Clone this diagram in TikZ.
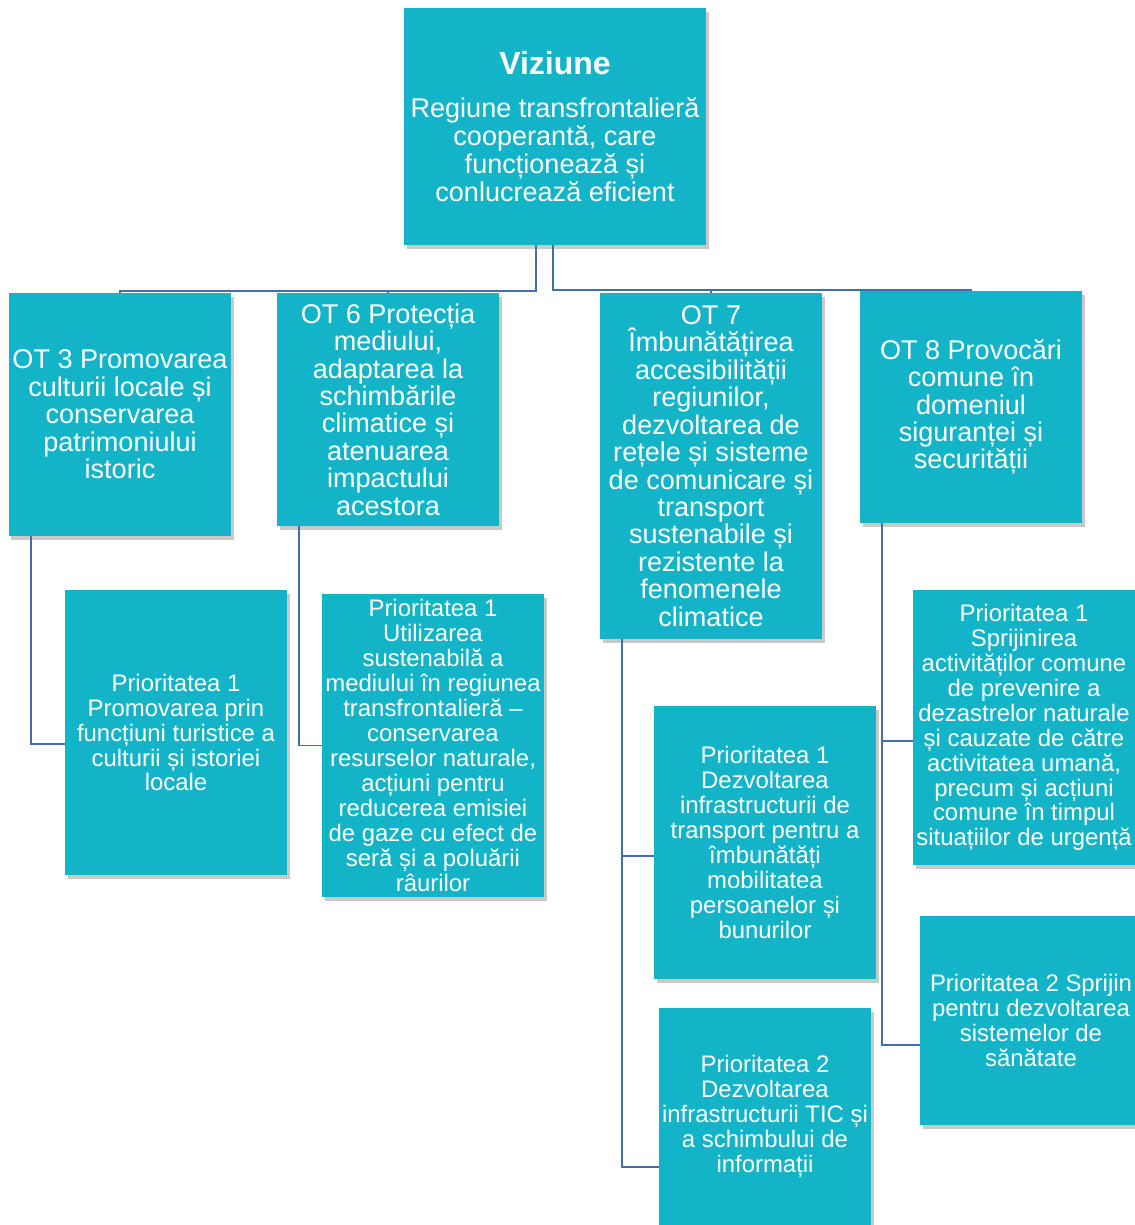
\documentclass[tikz,border=0pt]{standalone}
\usepackage{fontspec}
\setmainfont{Liberation Sans}
\usepackage{tikz}
\usetikzlibrary{shadows}
\definecolor{boxteal}{RGB}{19,180,199}
\definecolor{linkblue}{RGB}{68,110,168}

\begin{document}
\begin{tikzpicture}[
    box/.style={fill=boxteal, text=white, align=center, inner sep=0pt,
      minimum width=4.44cm,
      drop shadow={shadow xshift=0.05cm, shadow yshift=-0.07cm, opacity=0.3, fill=black!70}},
    ot/.style={box, font=\fontsize{15.4}{15.6}\selectfont},
    prio/.style={box, font=\fontsize{13.6}{14.2}\selectfont},
    link/.style={draw=linkblue, line width=1.1pt}]
                \useasboundingbox (0,0) rectangle (22.68,-24.50);
                \node[box, minimum width=6.04cm, minimum height=4.74cm, font=\fontsize{15.4}{15.9}\selectfont] (vis) at (11.10,-2.53)
                  {{\fontsize{18.2}{19}\selectfont\bfseries Viziune}\\[9pt]Regiune transfrontalieră\\cooperantă, care\\funcționează și\\conlucrează eficient};
                \node[ot, minimum height=4.86cm] (ot3) at (2.40,-8.29)
                  {OT 3 Promovarea\\culturii locale și\\conservarea\\patrimoniului\\istoric};
                \node[ot, minimum height=4.66cm] (ot6) at (7.76,-8.19)
                  {OT 6 Protecția\\mediului,\\adaptarea la\\schimbările\\climatice și\\atenuarea\\impactului\\acestora};
                \node[ot, minimum height=6.92cm] (ot7) at (14.22,-9.32)
                  {OT 7\\Îmbunătățirea\\accesibilității\\regiunilor,\\dezvoltarea de\\rețele și sisteme\\de comunicare și\\transport\\sustenabile și\\rezistente la\\fenomenele\\climatice};
                \node[ot, minimum height=4.64cm] (ot8) at (19.42,-8.14)
                  {OT 8 Provocări\\comune în\\domeniul\\siguranței și\\securității};
                \node[prio, minimum height=5.70cm] (p31) at (3.52,-14.65)
                  {Prioritatea 1\\Promovarea prin\\funcțiuni turistice a\\culturii și istoriei\\locale};
                \node[prio, minimum height=6.06cm] (p61) at (8.66,-14.91)
                  {Prioritatea 1\\Utilizarea\\sustenabilă a\\mediului în regiunea\\transfrontalieră –\\conservarea\\resurselor naturale,\\acțiuni pentru\\reducerea emisiei\\de gaze cu efect de\\seră și a poluării\\râurilor};
                \node[prio, minimum height=5.46cm] (p71) at (15.30,-16.85)
                  {Prioritatea 1\\Dezvoltarea\\infrastructurii de\\transport pentru a\\îmbunătăți\\mobilitatea\\persoanelor și\\bunurilor};
                \node[prio, minimum width=4.24cm, minimum height=4.34cm] (p72) at (15.30,-22.33)
                  {Prioritatea 2\\Dezvoltarea\\infrastructurii TIC și\\a schimbului de\\informații};
                \node[prio, minimum height=5.50cm] (p81) at (20.48,-14.55)
                  {Prioritatea 1\\Sprijinirea\\activităților comune\\de prevenire a\\dezastrelor naturale\\și cauzate de către\\activitatea umană,\\precum și acțiuni\\comune în timpul\\situațiilor de urgență};
                \node[prio, minimum height=4.18cm] (p82) at (20.62,-20.41)
                  {Prioritatea 2 Sprijin\\pentru dezvoltarea\\sistemelor de\\sănătate};
                \draw[link] ([xshift=-0.38cm]vis.south) -- ++(0,-0.92) -| (ot3.north);
                \draw[link] ([xshift=-0.38cm]vis.south) -- ++(0,-0.92) -| (ot6.north);
                \draw[link] ([xshift=-0.04cm]vis.south) -- ++(0,-0.90) -| (ot7.north);
                \draw[link] ([xshift=-0.04cm]vis.south) -- ++(0,-0.90) -| (ot8.north);
                \draw[link] ([xshift=0.44cm]ot3.south west) |- ([yshift=-0.23cm]p31.west);
                \draw[link] ([xshift=0.44cm]ot6.south west) |- (p61.west);
                \draw[link] ([xshift=0.44cm]ot7.south west) |- ([yshift=-0.27cm]p71.west);
                \draw[link] ([xshift=0.44cm]ot7.south west) |- ([yshift=-1.01cm]p72.west);
                \draw[link] ([xshift=0.44cm]ot8.south west) |- ([yshift=-0.27cm]p81.west);
                \draw[link] ([xshift=0.44cm]ot8.south west) |- ([yshift=-0.49cm]p82.west);
            \end{tikzpicture}
\end{document}
